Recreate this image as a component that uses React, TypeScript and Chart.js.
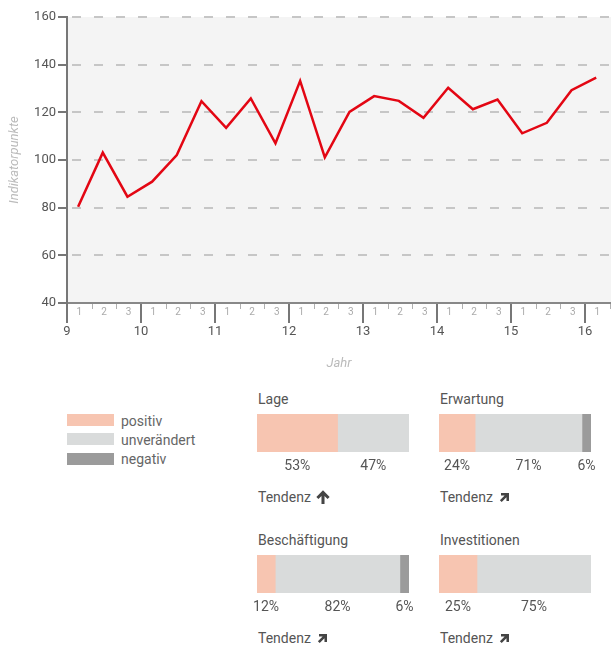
import React, { useEffect, useRef } from "react";
import { Chart, registerables } from "chart.js";

Chart.register(...registerables);

// ---------- data ----------
const years = [9, 10, 11, 12, 13, 14, 15, 16];
const periodLabels = ["1", "2", "3"];
const indexValues = [
  80.4, 103.1, 84.6, 90.9, 102.1, 124.7, 113.5, 125.8, 107.0, 133.2, 101.1,
  120.2, 126.8, 124.8, 117.7, 130.3, 121.3, 125.4, 111.2, 115.6, 129.3, 134.6,
];
const yTicks = [40, 60, 80, 100, 120, 140, 160];
const yAxisTitle = "Indikatorpunkte";
const xAxisTitle = "Jahr";

const legendLabels = ["positiv", "unverändert", "negativ"];
const shareColors = ["#f7c5b1", "#d9dbdb", "#9b9b9b"];
const surveyTopics = ["Lage", "Erwartung", "Beschäftigung", "Investitionen"];
const positiveShares = [53, 24, 12, 25];
const unchangedShares = [47, 71, 82, 75];
const negativeShares = [0, 6, 6, 0];
const trends = ["up", "upRight", "upRight", "upRight"];
const trendLabel = "Tendenz";

const FONT = "Roboto, 'Noto Sans', sans-serif";

// ---------- main line chart ----------
const plotDecor = {
  id: "plotDecor",
  beforeDraw(chart: any) {
    const { ctx, chartArea } = chart;
    const { left, top, right, bottom } = chartArea;
    ctx.save();
    ctx.fillStyle = "#f4f4f4";
    ctx.fillRect(left, top, right - left, bottom - top);
    ctx.restore();
  },
  afterDraw(chart: any) {
    const { ctx, chartArea } = chart;
    const x = chart.scales.x;
    const bottom = chartArea.bottom;
    const n = periodLabels.length;
    ctx.save();
    ctx.strokeStyle = "#b0b0b0";
    ctx.lineWidth = 1;
    ctx.fillStyle = "#aaaaaa";
    ctx.font = `10px ${FONT}`;
    ctx.textAlign = "center";
    ctx.textBaseline = "middle";
    years.forEach((yr) => {
      periodLabels.forEach((lab, k) => {
        const cv = yr + (k + 0.5) / n;
        if (cv <= x.max) {
          ctx.fillText(lab, x.getPixelForValue(cv), bottom + 9);
        }
        if (k > 0) {
          const tv = yr + k / n;
          if (tv <= x.max) {
            const px = Math.round(x.getPixelForValue(tv)) + 0.5;
            ctx.beginPath();
            ctx.moveTo(px, bottom + 1);
            ctx.lineTo(px, bottom + 6);
            ctx.stroke();
          }
        }
      });
    });
    ctx.restore();
  },
};

function LineChart() {
  const ref = useRef<HTMLCanvasElement>(null);
  useEffect(() => {
    if (!ref.current) return;
    const n = periodLabels.length;
    const chart = new Chart(ref.current, {
      type: "line",
      data: {
        datasets: [
          {
            data: indexValues.map((v, i) => ({ x: years[0] + (i + 0.45) / n, y: v })),
            borderColor: "#e30613",
            borderWidth: 2.5,
            pointRadius: 0,
            tension: 0,
            fill: false,
          },
        ],
      },
      options: {
        responsive: false,
        maintainAspectRatio: false,
        animation: false,
        layout: { padding: { top: 17, right: 0, bottom: 0, left: 0 } },
        plugins: { legend: { display: false }, tooltip: { enabled: false } },
        scales: {
          x: {
            type: "linear",
            min: years[0],
            max: 16.35,
            afterFit: (s: any) => {
              s.height = 77;
            },
            ticks: {
              stepSize: 1,
              includeBounds: false,
              autoSkip: false,
              maxRotation: 0,
              padding: 1,
              color: "#555",
              font: { family: FONT, size: 13 },
              callback: (v: any) => (years.includes(Number(v)) ? String(v) : ""),
            },
            grid: {
              display: true,
              drawOnChartArea: false,
              drawTicks: true,
              tickLength: 20,
              tickColor: "#777",
              tickWidth: 2,
              color: "#777",
              lineWidth: 2,
            },
            border: { display: true, color: "#888", width: 2 },
            title: {
              display: true,
              text: xAxisTitle,
              color: "#bbbbbb",
              font: { family: FONT, size: 13, style: "italic" },
              padding: { top: 0, bottom: 8 },
            },
          },
          y: {
            min: yTicks[0],
            max: yTicks[yTicks.length - 1],
            afterFit: (s: any) => {
              s.width = 67;
            },
            afterBuildTicks: (s: any) => {
              s.ticks = yTicks.map((v) => ({ value: v }));
            },
            ticks: {
              padding: 2,
              color: "#555",
              font: { family: FONT, size: 13 },
            },
            grid: {
              color: "#c6c6c6",
              lineWidth: 2,
              drawTicks: true,
              tickLength: 9,
              tickColor: "#777",
              tickWidth: 2,
              tickBorderDash: [],
            },
            border: { display: true, color: "#777", width: 2, dash: [9, 13], dashOffset: 18 },
            title: {
              display: true,
              text: yAxisTitle,
              color: "#bbbbbb",
              font: { family: FONT, size: 13, style: "italic" },
              padding: { top: 7, bottom: 0 },
            },
          },
        },
      } as any,
      plugins: [plotDecor],
    });
    return () => chart.destroy();
  }, []);
  return (
    <canvas
      ref={ref}
      width={611}
      height={380}
      style={{ position: "absolute", left: 0, top: 0, width: 611, height: 380 }}
    />
  );
}

// ---------- small share bars ----------
const shareLabels = {
  id: "shareLabels",
  afterDatasetsDraw(chart: any) {
    const { ctx, chartArea } = chart;
    ctx.save();
    ctx.fillStyle = "#555";
    ctx.font = `14px ${FONT}`;
    ctx.textAlign = "center";
    ctx.textBaseline = "middle";
    chart.data.datasets.forEach((ds: any, i: number) => {
      const v = ds.data[0];
      if (!v) return;
      const el = chart.getDatasetMeta(i).data[0] as any;
      if (!el) return;
      ctx.fillText(`${v}%`, (el.x + el.base) / 2, chartArea.bottom + 14);
    });
    ctx.restore();
  },
};

const PAD_X = 12;
const BAR_W = 152;
const BAR_H = 38;

function ShareBar({ idx, left, top }: { idx: number; left: number; top: number }) {
  const ref = useRef<HTMLCanvasElement>(null);
  useEffect(() => {
    if (!ref.current) return;
    const vals = [positiveShares[idx], unchangedShares[idx], negativeShares[idx]];
    const total = vals.reduce((a, b) => a + b, 0);
    const chart = new Chart(ref.current, {
      type: "bar",
      data: {
        labels: [surveyTopics[idx]],
        datasets: vals.map((v, i) => ({
          label: legendLabels[i],
          data: [v],
          backgroundColor: shareColors[i],
          borderWidth: 0,
          barPercentage: 1,
          categoryPercentage: 1,
        })),
      },
      options: {
        indexAxis: "y",
        responsive: false,
        maintainAspectRatio: false,
        animation: false,
        layout: { padding: { left: PAD_X, right: PAD_X, top: 0, bottom: 28 } },
        plugins: { legend: { display: false }, tooltip: { enabled: false } },
        scales: {
          x: { stacked: true, display: false, min: 0, max: total },
          y: { stacked: true, display: false },
        },
      } as any,
      plugins: [shareLabels],
    });
    return () => chart.destroy();
  }, [idx]);
  const w = BAR_W + 2 * PAD_X;
  const h = BAR_H + 28;
  return (
    <canvas
      ref={ref}
      width={w}
      height={h}
      style={{ position: "absolute", left: left - PAD_X, top, width: w, height: h }}
    />
  );
}

function Arrow({ dir }: { dir: string }) {
  const up = dir === "up";
  return (
    <svg
      width={14}
      height={14}
      viewBox="0 0 12 12"
      style={{ display: "inline-block", verticalAlign: "middle", marginLeft: 5, marginTop: -3 }}
    >
      <path
        d="M6 0.3 L11.7 6 L9.9 7.8 L7.3 5.2 V12 H4.7 V5.2 L2.1 7.8 L0.3 6 Z"
        fill="#444"
        transform={up ? undefined : "rotate(45 6 6) scale(0.85) translate(1 1)"}
      />
    </svg>
  );
}

const panelPos = [
  { left: 257, top: 414 },
  { left: 439, top: 414 },
  { left: 257, top: 555 },
  { left: 439, top: 555 },
];

const textStyle = (left: number, centerY: number, size = 14, color = "#555"): React.CSSProperties => ({
  position: "absolute",
  left,
  top: centerY - 10,
  height: 20,
  lineHeight: "20px",
  fontSize: size,
  color,
  whiteSpace: "nowrap",
  fontFamily: FONT,
});

export default function App() {
  return (
    <div
      style={{
        position: "absolute",
        left: 0,
        top: 0,
        width: 611,
        height: 645,
        background: "#fff",
        fontFamily: FONT,
        overflow: "hidden",
      }}
    >
      <LineChart />
      {/* legend */}
      {legendLabels.map((lab, i) => {
        const top = [414, 433, 452.5][i];
        return (
          <React.Fragment key={lab}>
            <div
              style={{
                position: "absolute",
                left: 67,
                top,
                width: 47,
                height: 12,
                background: shareColors[i],
              }}
            />
            <div style={textStyle(121, top + 6.5, 14, "#666")}>{lab}</div>
          </React.Fragment>
        );
      })}
      {/* panels */}
      {surveyTopics.map((t, i) => {
        const p = panelPos[i];
        return (
          <React.Fragment key={t}>
            <div style={textStyle(p.left + 1, p.top - 15.5)}>{t}</div>
            <ShareBar idx={i} left={p.left} top={p.top} />
            <div style={textStyle(p.left + 1, p.top + 83)}>
              {trendLabel}
              <Arrow dir={trends[i]} />
            </div>
          </React.Fragment>
        );
      })}
    </div>
  );
}
